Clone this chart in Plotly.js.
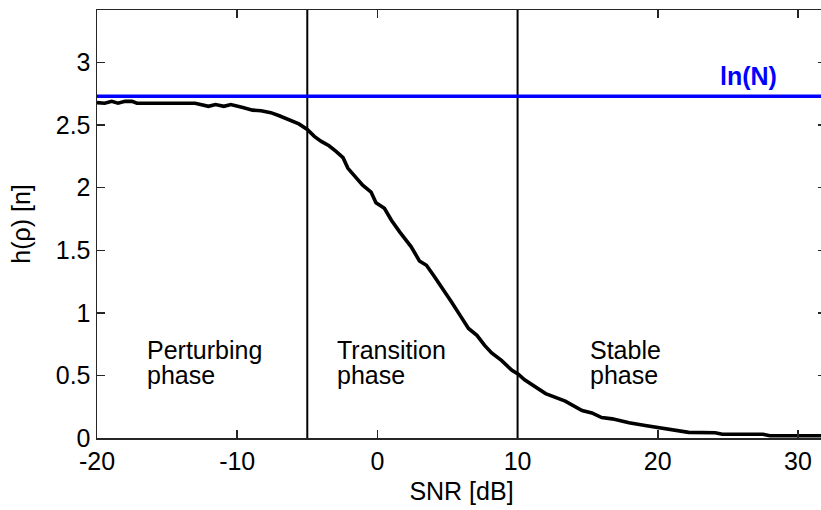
<!DOCTYPE html>
<html>
<head>
<meta charset="utf-8">
<script src="https://cdn.plot.ly/plotly-3.0.1.min.js"></script>
<style>
html,body{margin:0;padding:0;overflow:hidden;background:#fff;}
#chart{width:826px;height:510px;}
</style>
</head>
<body>
<div id="chart"></div>
<script>
// SNR [dB] sample points
const snr = [-20, -19.45, -18.95, -18.5, -18.0, -17.5, -17.15, -13.0, -12.05, -11.55, -10.95, -10.45,
  -9.6, -8.9, -8.3, -7.6, -7.0, -6.3, -5.6, -5.0, -4.5, -4.0, -3.45, -2.95, -2.45, -2.1, -1.5,
  -1.05, -0.45, -0.1, 0.5, 1.0, 1.6, 2.4, 3.0, 3.5, 4.1, 4.7, 5.3, 5.9, 6.5, 7.1, 7.65, 8.15,
  8.85, 9.6, 10.05, 10.5, 11.25, 12.0, 13.4, 14.6, 15.3, 16.0, 16.75, 17.95, 19.1, 20.1, 20.9,
  22.2, 24.1, 24.6, 27.5, 28.0, 32];
// entropy h(rho) [n]
const entropy = [2.68, 2.675, 2.69, 2.675, 2.69, 2.69, 2.675, 2.675, 2.65, 2.665, 2.65, 2.665,
  2.64, 2.62, 2.615, 2.6, 2.575, 2.545, 2.51, 2.465, 2.41, 2.37, 2.335, 2.29, 2.24, 2.155, 2.08,
  2.02, 1.965, 1.88, 1.835, 1.74, 1.645, 1.53, 1.415, 1.38, 1.285, 1.19, 1.085, 0.98, 0.875, 0.82, 0.74, 0.68,
  0.62, 0.54, 0.51, 0.465, 0.41, 0.355, 0.295, 0.22, 0.2, 0.163, 0.153, 0.122, 0.1, 0.082, 0.066,
  0.045, 0.042, 0.03, 0.03, 0.018, 0.018];
const lnN = 2.73;
const phaseBounds = [-5, 10];
const xTicks = [-20, -10, 0, 10, 20, 30];
const yTicks = [0, 0.5, 1, 1.5, 2, 2.5, 3];
const phaseLabels = [
  {x: -16.55, top: "Perturbing", bottom: "phase"},
  {x: -3.05, top: "Transition", bottom: "phase"},
  {x: 15.0, top: "Stable", bottom: "phase"}
];

const FONT = "Liberation Sans, Arial, sans-serif";
const AX = "#262626";
const FS = 25;

const shapes = phaseBounds.map(b => ({
  type: "line", xref: "x", yref: "paper", x0: b, x1: b, y0: 0, y1: 1,
  line: {color: "#000", width: 2}
}));
shapes.push({type: "line", xref: "paper", yref: "y", x0: 0, x1: 1, y0: lnN, y1: lnN,
  line: {color: "#0000ff", width: 3.5}});

const annotations = [];
phaseLabels.forEach(p => {
  annotations.push({x: p.x, y: 0.70, xref: "x", yref: "y", text: p.top, showarrow: false,
    xanchor: "left", yanchor: "middle", font: {family: FONT, size: FS, color: "#000"}});
  annotations.push({x: p.x, y: 0.50, xref: "x", yref: "y", text: p.bottom, showarrow: false,
    xanchor: "left", yanchor: "middle", font: {family: FONT, size: FS, color: "#000"}});
});
annotations.push({x: 26.5, y: 2.89, xref: "x", yref: "y", text: "<b>ln(N)</b>", showarrow: false,
  xanchor: "center", yanchor: "middle", font: {family: FONT, size: FS, color: "#0000ff"}});

const traces = [{
  x: snr, y: entropy, type: "scatter", mode: "lines",
  line: {color: "#000", width: 3.6}, hoverinfo: "skip"
}];

const layout = {
  width: 826, height: 510,
  margin: {l: 97, r: 0, t: 10, b: 72},
  paper_bgcolor: "#fff", plot_bgcolor: "#fff",
  showlegend: false,
  font: {family: FONT, size: FS, color: "#000"},
  xaxis: {
    range: [-20, 32], tickvals: xTicks, ticktext: xTicks.map(String),
    ticks: "inside", ticklen: 8, tickwidth: 1.5, tickcolor: AX,
    showline: true, linecolor: AX, linewidth: 1.5, mirror: "ticks",
    showgrid: false, zeroline: false,
    tickfont: {family: FONT, size: FS, color: "#000"},
    title: {text: "SNR [dB]", font: {family: FONT, size: FS, color: "#000"}, standoff: 9}
  },
  yaxis: {
    range: [0, 3.42], tickvals: yTicks, ticktext: yTicks.map(String),
    ticks: "inside", ticklen: 8, tickwidth: 1.5, tickcolor: AX,
    showline: true, linecolor: AX, linewidth: 1.5, mirror: "ticks",
    showgrid: false, zeroline: false,
    tickfont: {family: FONT, size: FS, color: "#000"},
    title: {text: "h(ρ) [n]", font: {family: FONT, size: FS, color: "#000"}, standoff: 18}
  },
  shapes: shapes,
  annotations: annotations
};

Plotly.newPlot("chart", traces, layout, {staticPlot: true, displayModeBar: false});
</script>
</body>
</html>
